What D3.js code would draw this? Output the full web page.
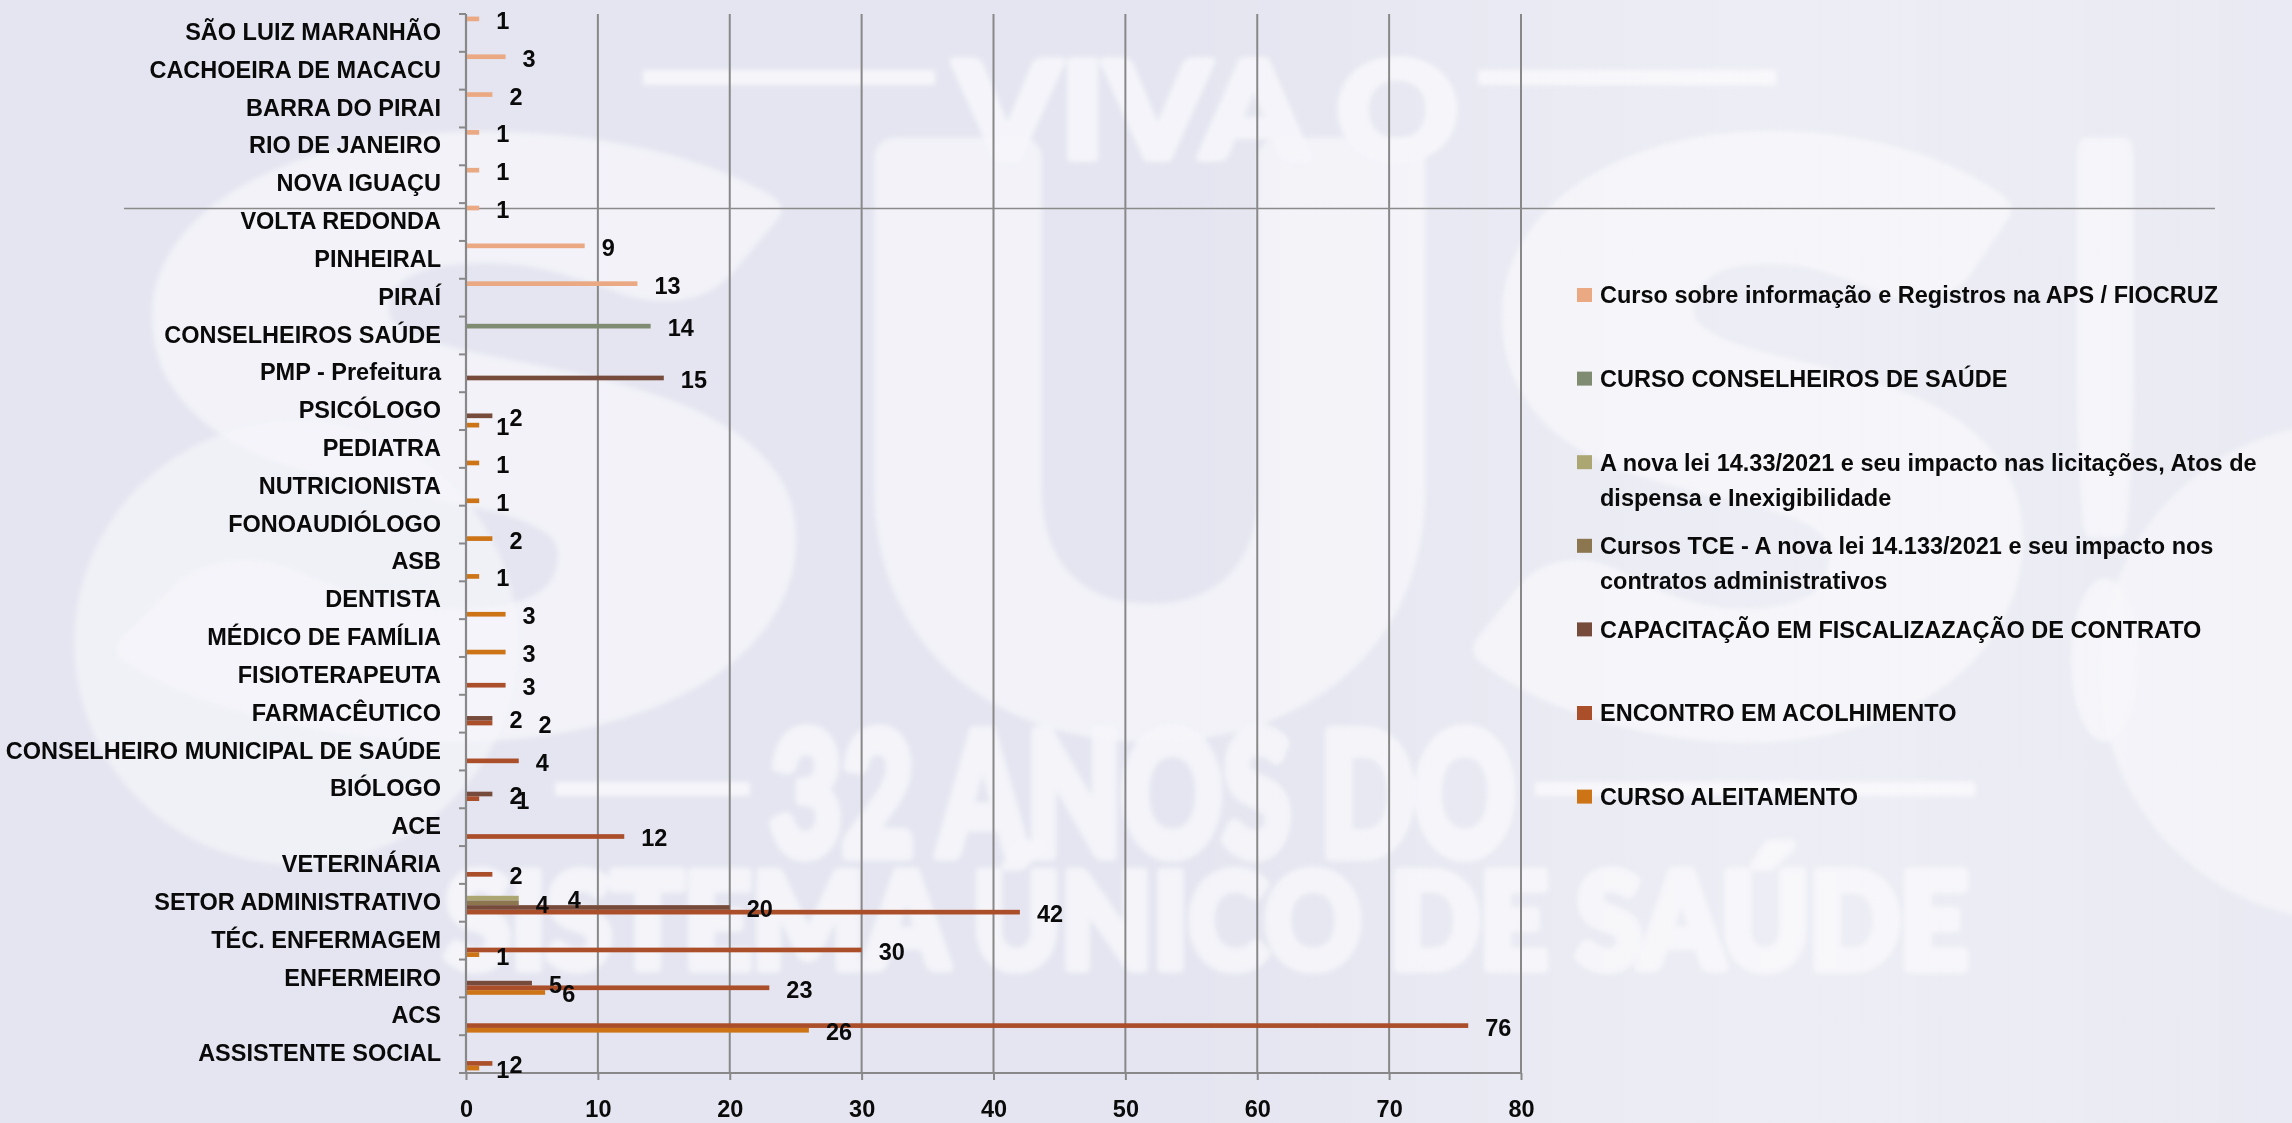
<!DOCTYPE html>
<html>
<head>
<meta charset="utf-8">
<script src="https://cdn.jsdelivr.net/npm/d3@7"></script>
<style>
  html, body { margin: 0; padding: 0; background: #e4e5f0; overflow: hidden; }
  svg { display: block; }
  .lbl { font-family: "Liberation Sans", Arial, sans-serif; font-weight: 700; fill: #0a0a0a; }
</style>
</head>
<body>
<svg id="chart" width="2292" height="1123"></svg>
<script>
// Categories in sheet order (first one sits at the bottom of the axis)
const categories = [
  "ASSISTENTE SOCIAL", "ACS", "ENFERMEIRO", "TÉC. ENFERMAGEM", "SETOR ADMINISTRATIVO",
  "VETERINÁRIA", "ACE", "BIÓLOGO", "CONSELHEIRO MUNICIPAL DE SAÚDE", "FARMACÊUTICO",
  "FISIOTERAPEUTA", "MÉDICO DE FAMÍLIA", "DENTISTA", "ASB", "FONOAUDIÓLOGO",
  "NUTRICIONISTA", "PEDIATRA", "PSICÓLOGO", "PMP - Prefeitura", "CONSELHEIROS SAÚDE",
  "PIRAÍ", "PINHEIRAL", "VOLTA REDONDA", "NOVA IGUAÇU", "RIO DE JANEIRO",
  "BARRA DO PIRAI", "CACHOEIRA DE MACACU", "SÃO LUIZ MARANHÃO"
];

// Participants per course, aligned with categories (null = no participants)
const cursoAleitamento = [1, 26, 6, 1, null, null, null, null, null, null,
  null, 3, 3, 1, 2, 1, 1, 1, null, null, null, null, null, null, null, null, null, null];
const encontroAcolhimento = [2, 76, 23, 30, 42, 2, 12, 1, 4, 2,
  3, null, null, null, null, null, null, null, null, null, null, null, null, null, null, null, null, null];
const capacitacaoFiscalizacao = [null, null, 5, null, 20, null, null, 2, null, 2,
  null, null, null, null, null, null, null, 2, 15, null, null, null, null, null, null, null, null, null];
const cursosTCE = [null, null, null, null, 4, null, null, null, null, null,
  null, null, null, null, null, null, null, null, null, null, null, null, null, null, null, null, null, null];
const novaLeiLicitacoes = [null, null, null, null, 4, null, null, null, null, null,
  null, null, null, null, null, null, null, null, null, null, null, null, null, null, null, null, null, null];
const cursoConselheiros = [null, null, null, null, null, null, null, null, null, null,
  null, null, null, null, null, null, null, null, null, 14, null, null, null, null, null, null, null, null];
const cursoInfoRegistros = [null, null, null, null, null, null, null, null, null, null,
  null, null, null, null, null, null, null, null, null, null, 13, 9, 1, 1, 1, 2, 3, 1];

// Series in legend order (top to bottom); the first is drawn topmost in each cluster
const seriesNames = [
  "Curso sobre informação e Registros na APS / FIOCRUZ",
  "CURSO CONSELHEIROS DE SAÚDE",
  "A nova lei 14.33/2021 e seu impacto nas licitações, Atos de dispensa e Inexigibilidade",
  "Cursos TCE - A nova lei 14.133/2021 e seu impacto nos contratos administrativos",
  "CAPACITAÇÃO EM FISCALIZAZAÇÃO DE CONTRATO",
  "ENCONTRO EM ACOLHIMENTO",
  "CURSO ALEITAMENTO"
];
const seriesValues = [
  cursoInfoRegistros, cursoConselheiros, novaLeiLicitacoes, cursosTCE,
  capacitacaoFiscalizacao, encontroAcolhimento, cursoAleitamento
];
const seriesColors = ["#eba983", "#7f8c72", "#aba672", "#8b7650", "#774b3c", "#ab4e2a", "#cd7417"];

const xTicks = [0, 10, 20, 30, 40, 50, 60, 70, 80];

// ---------------------------------------------------------------------------
const W = 2292, H = 1123;
const FS = "23.5px";
const svg = d3.select("#chart");
const plot = { left: 466, right: 1521, top: 14, bottom: 1073 };

// Background artwork: "VIVA O SUS! 32 ANOS DO SISTEMA ÚNICO DE SAÚDE"
const defs = svg.append("defs");
defs.append("filter").attr("id", "soft").append("feGaussianBlur").attr("stdDeviation", 2.5);
const grad = defs.append("linearGradient").attr("id", "glow").attr("x1", 0).attr("x2", 1).attr("y1", 0).attr("y2", 0);
grad.append("stop").attr("offset", 0).attr("stop-color", "#ffffff").attr("stop-opacity", 0);
grad.append("stop").attr("offset", 0.5).attr("stop-color", "#ffffff").attr("stop-opacity", 0);
grad.append("stop").attr("offset", 0.78).attr("stop-color", "#ffffff").attr("stop-opacity", 0.35);
grad.append("stop").attr("offset", 1).attr("stop-color", "#ffffff").attr("stop-opacity", 0.2);

svg.append("rect").attr("width", W).attr("height", H).attr("fill", "#e4e5f0");
const art = svg.append("g").attr("filter", "url(#soft)")
  .attr("fill", "#f5f5fa").attr("stroke", "#f5f5fa").attr("stroke-linejoin", "round");
const wmFont = "Lato, 'Open Sans', 'Liberation Sans', sans-serif";
function mark(txt, x0, x1, base, size, sw, op) {
  art.append("text").text(txt).attr("x", x0).attr("y", base)
    .attr("textLength", x1 - x0).attr("lengthAdjust", "spacingAndGlyphs")
    .attr("stroke-width", sw).attr("opacity", op)
    .style("font-family", wmFont).style("font-weight", 900).style("font-size", size + "px");
}
art.append("circle").attr("cx", 296).attr("cy", 643).attr("r", 222).attr("opacity", 0.7).attr("stroke", "none");
art.append("circle").attr("cx", 2350).attr("cy", 672).attr("r", 250).attr("opacity", 0.7).attr("stroke", "none");
mark("VIVA O", 955, 1458, 158, 134, 8, 0.95);
art.append("rect").attr("x", 643).attr("y", 70).attr("width", 292).attr("height", 15).attr("stroke", "none");
art.append("rect").attr("x", 1478).attr("y", 70).attr("width", 298).attr("height", 15).attr("stroke", "none");
mark("S", 125, 805, 716, 770, 40, 0.8);
mark("U", 840, 1460, 716, 770, 40, 0.8);
mark("S", 1480, 2030, 716, 770, 40, 0.8);
mark("!", 2060, 2150, 716, 770, 40, 0.8);
mark("32 ANOS DO", 770, 1515, 855, 170, 12, 0.9);
art.append("rect").attr("x", 555).attr("y", 782).attr("width", 195).attr("height", 14).attr("stroke", "none");
art.append("rect").attr("x", 1535).attr("y", 782).attr("width", 440).attr("height", 14).attr("stroke", "none");
mark("SISTEMA ÚNICO DE SAÚDE", 445, 1968, 968, 132, 10, 0.9);
svg.append("rect").attr("width", W).attr("height", H).attr("fill", "url(#glow)");

// Scales
const x = d3.scaleLinear().domain([0, 80]).range([plot.left, plot.right]);
const y = d3.scaleBand().domain(categories.slice().reverse()).range([plot.top, plot.bottom]);
const slot = d3.scaleBand().domain(d3.range(seriesNames.length))
  .range([0, y.bandwidth()]).paddingOuter(0.55);

const gridColor = "#888888";

// Vertical gridlines
svg.append("g").selectAll("line").data(xTicks.filter(d => d > 0)).join("line")
  .attr("x1", d => x(d)).attr("x2", d => x(d))
  .attr("y1", plot.top).attr("y2", plot.bottom)
  .attr("stroke", gridColor).attr("stroke-width", 2);

// Divider line across the slide
svg.append("line").attr("x1", 124).attr("x2", 2215).attr("y1", 208.5).attr("y2", 208.5)
  .attr("stroke", "#8a8a8a").attr("stroke-width", 1.6);

// Value axis
const xAxis = svg.append("g").attr("transform", `translate(0,${plot.bottom})`)
  .call(d3.axisBottom(x).tickValues(xTicks).tickSize(7).tickPadding(20).tickSizeOuter(0));
xAxis.select(".domain").attr("stroke", gridColor).attr("stroke-width", 2.2)
  .attr("d", `M${plot.left - 7},0H${plot.right}`);
xAxis.selectAll(".tick line").attr("stroke", gridColor).attr("stroke-width", 2);
xAxis.selectAll(".tick text").attr("class", "lbl").style("font-size", FS);

// Category axis
const yAxis = svg.append("g").attr("transform", `translate(${plot.left},0)`)
  .call(d3.axisLeft(y).tickSize(0).tickPadding(25));
yAxis.select(".domain").attr("stroke", gridColor).attr("stroke-width", 2.2)
  .attr("d", `M0,${plot.top}V${plot.bottom}`);
yAxis.selectAll(".tick text").attr("class", "lbl").style("font-size", FS).attr("dy", "0.3em");
const bounds = d3.range(categories.length + 1).map(i => plot.top + i * y.step());
svg.append("g").selectAll("line").data(bounds).join("line")
  .attr("x1", plot.left - 7).attr("x2", plot.left)
  .attr("y1", d => d).attr("y2", d => d)
  .attr("stroke", gridColor).attr("stroke-width", 2);

// Bars
const marks = [];
seriesValues.forEach((vals, s) => {
  vals.forEach((v, c) => {
    if (v != null) marks.push({ s, cat: categories[c], v });
  });
});
svg.append("g").selectAll("rect").data(marks).join("rect")
  .attr("x", x(0) + 1)
  .attr("y", d => y(d.cat) + slot(d.s))
  .attr("width", d => x(d.v) - x(0) - 1)
  .attr("height", slot.bandwidth())
  .attr("fill", d => seriesColors[d.s]);

// Data labels (a few are moved sideways so that overlapping numbers stay readable)
const labelShift = {
  "2|SETOR ADMINISTRATIVO": 32,
  "5|FARMACÊUTICO": 29,
  "5|BIÓLOGO": 20
};
svg.append("g").selectAll("text").data(marks).join("text")
  .attr("class", "lbl").style("font-size", FS)
  .attr("x", d => x(d.v) + 17 + (labelShift[d.s + "|" + d.cat] || 0))
  .attr("y", d => y(d.cat) + slot(d.s) + slot.bandwidth() / 2 + 1.5)
  .attr("dy", "0.36em")
  .text(d => d.v);

// Legend
const legend = svg.append("g").attr("transform", "translate(1577,0)");
const maxLegendWidth = 690;
seriesNames.forEach((name, i) => {
  const cy = 295 + i * 83.6;
  const g = legend.append("g");
  g.append("rect").attr("x", 0).attr("y", cy - 7).attr("width", 15).attr("height", 14)
    .attr("fill", seriesColors[i]);
  const t = g.append("text").attr("class", "lbl").style("font-size", FS)
    .attr("x", 23).attr("y", cy).attr("dy", "0.36em");
  const words = name.split(" ");
  let line = [];
  let tspan = t.append("tspan").attr("x", 23);
  words.forEach(w => {
    line.push(w);
    tspan.text(line.join(" "));
    if (tspan.node().getComputedTextLength() > maxLegendWidth && line.length > 1) {
      line.pop();
      tspan.text(line.join(" "));
      line = [w];
      tspan = t.append("tspan").attr("x", 23).attr("dy", 35).text(w);
    }
  });
});
</script>
</body>
</html>
